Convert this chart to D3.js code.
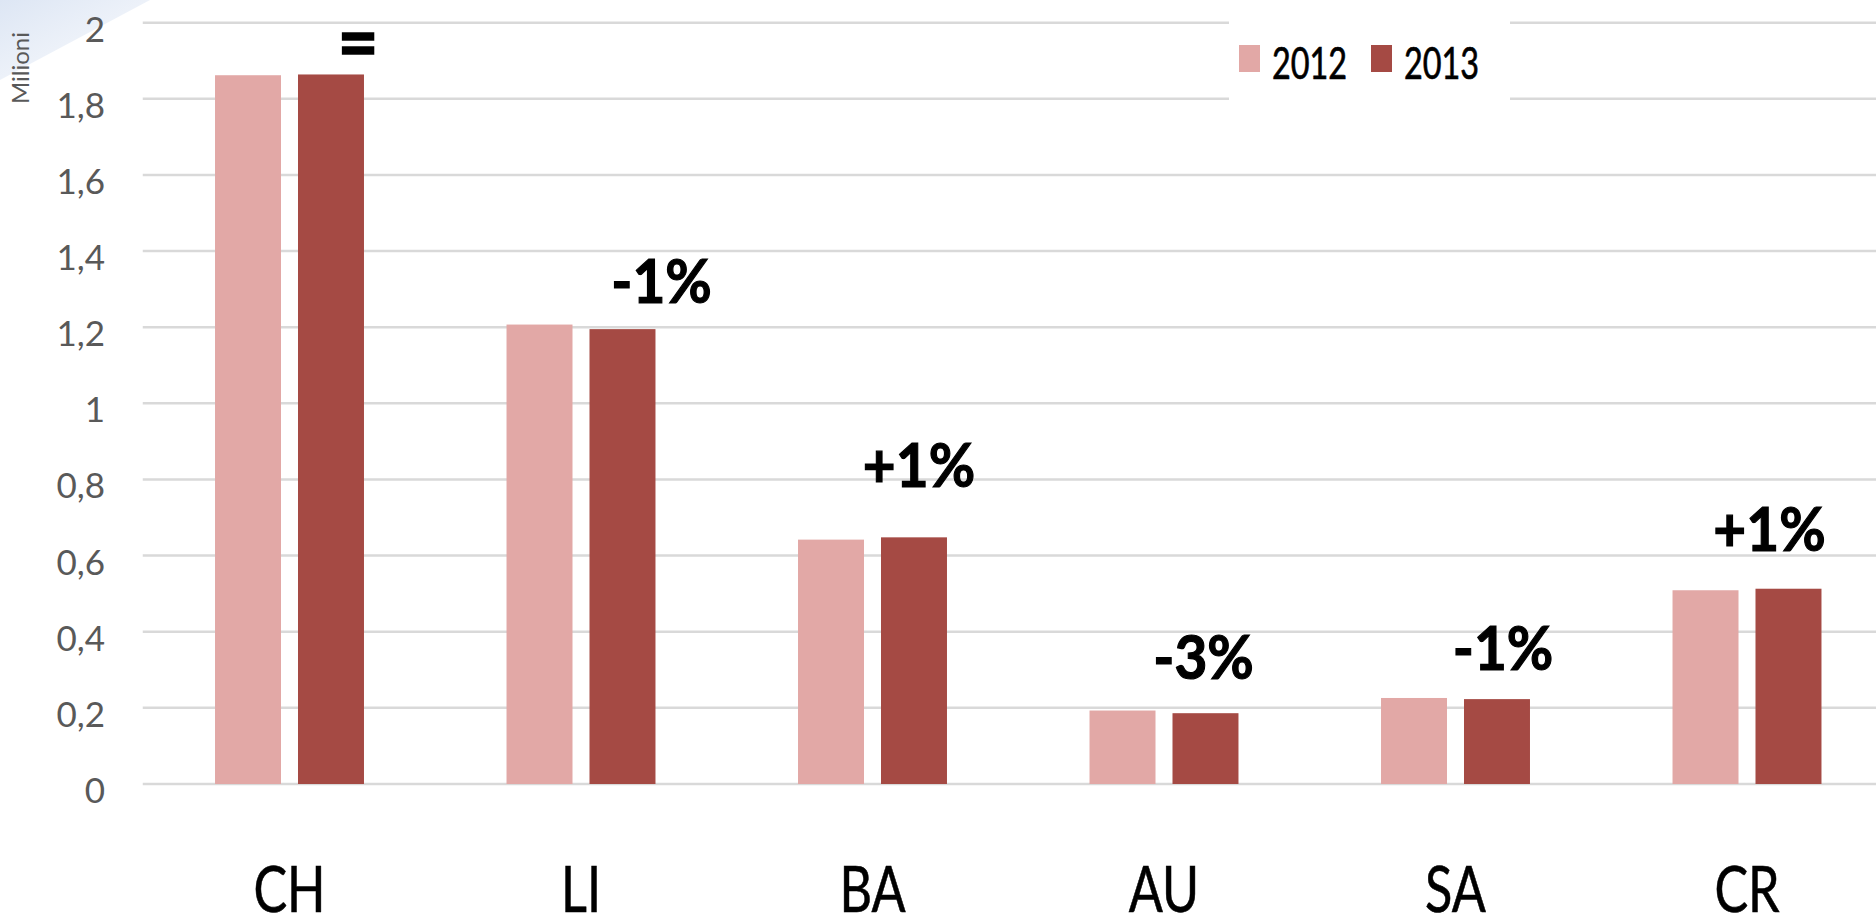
<!DOCTYPE html>
<html>
<head>
<meta charset="utf-8">
<script src="https://cdn.jsdelivr.net/npm/d3@7"></script>
<style>
  html, body { margin: 0; padding: 0; background: #ffffff; overflow: hidden; }
  text { font-family: Lato, "Open Sans", sans-serif; }
</style>
</head>
<body>
<svg id="chart" width="1876" height="917"></svg>
<script>
// chart values
const categories = ["CH", "LI", "BA", "AU", "SA", "CR"];
const seriesNames = ["2012", "2013"];
const values2012 = [1.862, 1.207, 0.642, 0.193, 0.226, 0.509];
const values2013 = [1.864, 1.195, 0.648, 0.186, 0.223, 0.513];
const changeLabels = ["=", "-1%", "+1%", "-3%", "-1%", "+1%"];
const yTickValues = [0, 0.2, 0.4, 0.6, 0.8, 1, 1.2, 1.4, 1.6, 1.8, 2];
const unitLabel = "Milioni";

// layout
const width = 1876, height = 917;
const plot = {left: 143.75, top: 22.7, bottom: 784};
const step = 291.5;
const colors = {"2012": "#e2a8a6", "2013": "#a54a44"};
// hand placed offsets of the change labels, from the top centre of the 2013 bar
const labelNudge = [[27, -4], [39, -26], [5, -50], [-2, -34], [6, -29], [-19, -38]];

const svg = d3.select("#chart");

drawChart();

function drawChart(){

  let x0 = d3.scaleBand()
    .domain(categories)
    .range([plot.left, plot.left + step * categories.length])
    .paddingInner(0.489)
    .paddingOuter(0.2445);

  let x1 = d3.scaleBand()
    .domain(seriesNames)
    .range([0, x0.bandwidth()])
    .paddingInner(0.2048);

  let y = d3.scaleLinear()
    .domain([0, 2])
    .range([plot.bottom, plot.top]);

  let fmt = function(d){ return d3.format("~g")(+d.toFixed(1)).replace(".", ","); };

  // faint slide decoration top left
  let defs = svg.append("defs");
  let grad = defs.append("linearGradient")
      .attr("id", "deco")
      .attr("x1", "0").attr("y1", "0")
      .attr("x2", "1").attr("y2", "1");
  grad.append("stop").attr("offset", "0%").attr("stop-color", "#dde6f4");
  grad.append("stop").attr("offset", "70%").attr("stop-color", "#f3f6fb");
  grad.append("stop").attr("offset", "100%").attr("stop-color", "#ffffff");
  svg.append("polygon")
      .attr("points", "0,0 150,0 0,80")
      .attr("fill", "url(#deco)");

  // gridlines
  svg.append("g")
      .attr("class", "grid")
    .selectAll("line")
    .data(yTickValues)
    .join("line")
      .attr("x1", plot.left - 1)
      .attr("x2", width)
      .attr("y1", d => y(d))
      .attr("y2", d => y(d))
      .style("stroke", "#d9d9d9")
      .style("stroke-width", 2.5);

  // y tick labels
  svg.append("g")
    .selectAll("text")
    .data(yTickValues)
    .join("text")
      .attr("x", 105)
      .attr("y", d => y(d) + 5)
      .attr("text-anchor", "end")
      .attr("dominant-baseline", "central")
      .style("font-size", "35px")
      .style("fill", "#595959")
      .text(d => fmt(d));

  svg.append("text")
      .attr("transform", "translate(29,68) rotate(-90)")
      .attr("text-anchor", "middle")
      .style("font-size", "24px")
      .style("fill", "#595959")
      .text(unitLabel);

  // bars
  let rows = categories.map(function(c, i){
    return {cat: c, values: [
      {name: seriesNames[0], value: values2012[i]},
      {name: seriesNames[1], value: values2013[i]}
    ]};
  });

  let groups = svg.append("g")
    .selectAll("g")
    .data(rows)
    .join("g")
      .attr("transform", d => `translate(${x0(d.cat)},0)`);

  groups.selectAll("rect")
    .data(d => d.values)
    .join("rect")
      .attr("x", d => x1(d.name))
      .attr("y", d => y(d.value))
      .attr("width", x1.bandwidth())
      .attr("height", d => y(0) - y(d.value))
      .attr("fill", d => colors[d.name]);

  // category labels
  svg.append("g")
    .selectAll("text")
    .data(categories)
    .join("text")
      .attr("transform", d => `translate(${x0(d) + x0.bandwidth() / 2},912) scale(0.8,1)`)
      .attr("text-anchor", "middle")
      .style("font-size", "63px")
      .style("fill", "#000")
      .style("stroke", "#000")
      .style("stroke-width", 0.6)
      .text(d => d);

  // change labels above the 2013 bars
  svg.append("g")
    .selectAll("text")
    .data(changeLabels)
    .join("text")
      .attr("transform", function(d, i){
        let cx = x0(categories[i]) + x1(seriesNames[1]) + x1.bandwidth() / 2 + labelNudge[i][0];
        let cy = y(values2013[i]) + labelNudge[i][1];
        let s = d === "=" ? "scale(1.15,1.25)" : "scale(0.93,1)";
        return `translate(${cx},${cy}) ${s}`;
      })
      .attr("text-anchor", "middle")
      .style("font-size", "61px")
      .style("font-weight", 700)
      .style("fill", "#000")
      .style("stroke", "#000")
      .style("stroke-width", 1.2)
      .text(d => d);

  // legend
  let legend = svg.append("g");
  legend.append("rect")
      .attr("x", 1229)
      .attr("y", 8)
      .attr("width", 281)
      .attr("height", 100)
      .attr("fill", "#ffffff");

  let item = legend.selectAll("g")
    .data(seriesNames)
    .join("g")
      .attr("transform", (d, i) => `translate(${1239 + i * 132},45)`);

  item.append("rect")
      .attr("width", 21)
      .attr("height", 27)
      .attr("fill", d => colors[d]);

  item.append("text")
      .attr("transform", "translate(33,34) scale(0.72,1)")
      .style("font-size", "45px")
      .style("fill", "#000")
      .style("stroke", "#000")
      .style("stroke-width", 0.7)
      .text(d => d);
}
</script>
</body>
</html>
